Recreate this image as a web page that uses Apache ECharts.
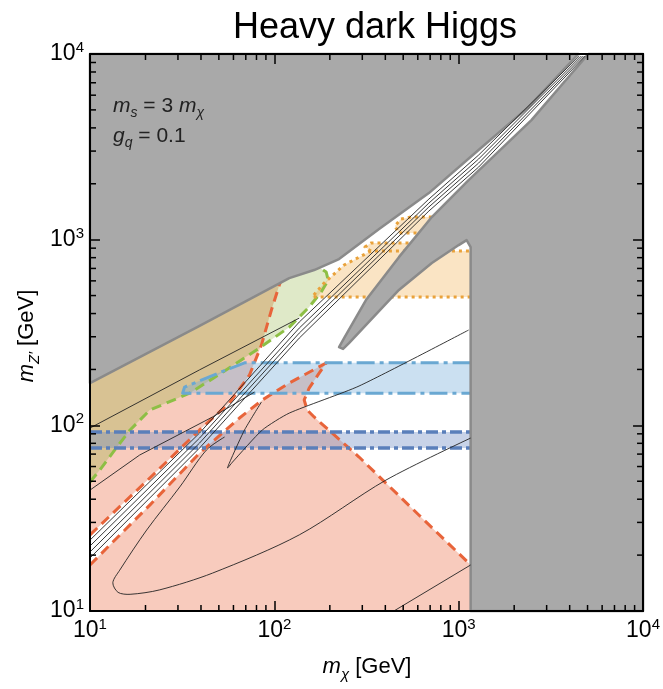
<!DOCTYPE html>
<html><head><meta charset="utf-8">
<script src="https://cdn.jsdelivr.net/npm/echarts@6.0.0/dist/echarts.min.js"></script>
<style>html,body{margin:0;padding:0;background:#fff}#c{width:663px;height:689px}</style>
</head><body><div id="c"></div>
<script>
// ---- data (m_chi [GeV], m_Z' [GeV]) ----
const grayUpper = [[10,10000],[10,169],[39.3,343],[120.5,621],[164.4,686],[224.4,786],[370,1140],[689,1782],[1282,3040],[2388,5176],[4457,10000]];
const grayRight = [[5047,10000],[2481,4406],[1132,2094],[715,1324],[474,805],[314,473],[239,295],[224.4,264],[236,258],[254,277],[474,536],[715,748],[1000,935],[1104,995],[1161,912],[1161,10],[10000,10],[10000,10000]];
const pinkLower = [[10,10],[10,17.7],[21.1,37.2],[39.3,70.9],[64.7,109.5],[86.1,137],[120.5,169],[191,216.5],[175,191],[154.5,158.8],[145.2,137],[150.8,120.8],[164.4,110.9],[288,67.5],[608,32.9],[1161,17.7],[1161,10]];
const pinkUpper = [[10,25.7],[21.1,52.0],[39.3,94.4],[57.1,131.9],[73.3,186.6],[85.1,270.6],[96.4,417.8],[106.4,569.6],[113.2,669],[10,198.6]];
const greenRegion = [[10,198.6],[10,49.5],[11.3,57.4],[13.6,73.6],[16.5,94.4],[21.1,120.8],[34.7,149],[55.0,199],[83.0,261],[120.5,338],[154.5,434],[179.5,522],[196,606],[191,670],[170.6,721],[120.5,670]];
const tanOverlap = [[10,198.6],[10,49.5],[11.3,57.4],[13.6,73.6],[16.5,94.4],[21.1,120.8],[34.7,149],[55.0,199],[83.0,261],[85.1,270.6],[96.4,417.8],[106.4,569.6],[113.2,669]];
const lightBlueRegion = [[31.8,149],[32.6,160.8],[55.0,199],[68.9,217],[1161,217],[1161,149]];
const darkBlueMz = [75.5, 92.0];
const darkBlueMchi = [10, 1161];
const orange1 = [[160.4,491],[186.2,584],[239,730],[334,868],[1161,868],[1161,491]];
const orange2 = [[334,868],[310,912],[334,959],[689,959],[689,868]];
const orange3 = [[474,1085],[451,1184],[485,1291],[551,1324],[780,1324],[780,1085]];
// contour lines
const strip1 = [[10,24.1],[39.3,90.9],[136.5,360],[689,1654],[1282,2855],[4508,9750]];
const strip2 = [[10,22.4],[39.3,85.4],[136.5,334],[689,1574],[1282,2718],[4624,9750]];
const strip3 = [[10,20.8],[39.3,80.3],[136.5,314],[689,1500],[1282,2585],[4742,9750]];
const strip4 = [[10,19.3],[39.3,75.5],[136.5,295],[689,1426],[1282,2460],[4853,9750]];
const loopLine = [[53.7,86.5],[42.8,73.6],[30.7,46.6],[20.3,27.3],[14.5,16.6],[13.3,14.2],[14.2,12.6],[16.5,12.3],[23.9,13.0],[46.2,16.0],[136.5,25.7],[403,50.7],[1161,85.4]];
const vLine = [[85.1,133.5],[68.9,94.4],[58.6,66.7],[55.7,58.9],[59.3,63.4],[86.1,94.4],[120.5,116.4],[288,162.8],[1132,326]];
const lowRightLine = [[445,10],[1161,17.7]];
const upperLine1 = [[10,96.7],[39.3,199],[136.5,378]];
const upperLine2 = [[10,44.8],[18.6,69.2],[46.2,110.9],[78.0,151]];
// ticks
const minorTicks = [20,30,40,50,60,70,80,90,200,300,400,500,600,700,800,900,2000,3000,4000,5000,6000,7000,8000,9000];

const FONT = "'Liberation Sans', Arial, Helvetica, sans-serif";
const chart = echarts.init(document.getElementById('c'), null, {renderer:'canvas'});

function polySeries(pts, fill, z) {
  return {type:'custom', coordinateSystem:'cartesian2d', z:z, silent:true, data:[[10,10]],
    renderItem:(p, api) => ({type:'polygon', shape:{points:pts.map(q=>api.coord(q))},
      style:{fill:fill, stroke:null}})};
}
function strokePolySeries(pts, fill, stroke, w, z) {
  return {type:'custom', coordinateSystem:'cartesian2d', z:z, silent:true, data:[[10,10]],
    renderItem:(p, api) => ({type:'polygon', shape:{points:pts.map(q=>api.coord(q))},
      style:{fill:fill, stroke:stroke, lineWidth:w, lineJoin:'round'}})};
}
function lineSeries(pts, stroke, w, dash, z, smooth) {
  return {type:'custom', coordinateSystem:'cartesian2d', z:z, silent:true, data:[[10,10]],
    renderItem:(p, api) => ({type:'polyline', shape:{points:pts.map(q=>api.coord(q)), smooth:smooth||0},
      style:{fill:'none', stroke:stroke, lineWidth:w, lineDash:dash||null, lineCap:'butt', lineJoin:'round'}})};
}

const PINK='#f8cbbd', GREEN='#dfe9c8', TAN='#d8c293';
const LBLUE='rgba(110,170,215,0.36)', DBLUE='rgba(110,140,195,0.38)', ORANGE='rgba(240,170,70,0.32)';
const series = [
  polySeries(pinkLower, PINK, 2),
  polySeries(pinkUpper, PINK, 2),
  polySeries(greenRegion, GREEN, 2),
  polySeries(tanOverlap, TAN, 2),
  polySeries(lightBlueRegion, LBLUE, 2),
  polySeries([[darkBlueMchi[0],darkBlueMz[0]],[darkBlueMchi[0],darkBlueMz[1]],[darkBlueMchi[1],darkBlueMz[1]],[darkBlueMchi[1],darkBlueMz[0]]], DBLUE, 2),
  polySeries(orange1, ORANGE, 2),
  polySeries(orange2, ORANGE, 2),
  polySeries(orange3, ORANGE, 2),
  lineSeries(pinkUpper.slice(0,9), '#e8643a', 3, [10,6], 3),
  lineSeries(pinkLower.slice(1,16), '#e8643a', 3, [10,6], 3),
  lineSeries(greenRegion.slice(1,15), '#8dbf45', 3, [10,6], 3),
  lineSeries([lightBlueRegion[4],lightBlueRegion[3],lightBlueRegion[2],lightBlueRegion[1],lightBlueRegion[0],lightBlueRegion[5]], '#6aa8d2', 3, [18,5,4,5], 3),
  lineSeries([[darkBlueMchi[0],darkBlueMz[1]],[darkBlueMchi[1],darkBlueMz[1]]], '#5a7fba', 3.5, [12,4,4,4], 3),
  lineSeries([[darkBlueMchi[0],darkBlueMz[0]],[darkBlueMchi[1],darkBlueMz[0]]], '#5a7fba', 3.5, [12,4,4,4], 3),
  lineSeries([orange1[5],orange1[0],orange1[1],orange1[2],orange1[3],orange1[4]], '#e9a23b', 3, [3,4], 3),
  lineSeries([orange2[0],orange2[1],orange2[2],orange2[3]], '#e9a23b', 3, [3,4], 3),
  lineSeries([orange3[4],orange3[3],orange3[2],orange3[1],orange3[0],orange3[5]], '#e9a23b', 3, [3,4], 3),
  strokePolySeries(grayUpper, '#a9a9a9', '#8a8a8a', 2.5, 4),
  strokePolySeries(grayRight, '#a9a9a9', '#8a8a8a', 2.5, 4),
  lineSeries(strip1, '#222', 0.9, null, 5),
  lineSeries(strip2, '#222', 0.9, null, 5),
  lineSeries(strip3, '#222', 0.9, null, 5),
  lineSeries(strip4, '#222', 0.9, null, 5),
  lineSeries(loopLine, '#222', 0.9, null, 5, 0.3),
  lineSeries(vLine, '#222', 0.9, null, 5, 0.2),
  lineSeries(lowRightLine, '#222', 0.9, null, 5),
  lineSeries(upperLine1, '#222', 0.9, null, 5),
  lineSeries(upperLine2, '#222', 0.9, null, 5),
  {type:'custom', coordinateSystem:'cartesian2d', z:12, silent:true, data:[[10,10]],
    renderItem:(p, api) => {
      const ch = [];
      const st = {stroke:'#000', lineWidth:1.5};
      minorTicks.forEach(v => {
        let a = api.coord([v,10]); ch.push({type:'line', shape:{x1:a[0],y1:a[1],x2:a[0],y2:a[1]-6}, style:st});
        a = api.coord([v,10000]); ch.push({type:'line', shape:{x1:a[0],y1:a[1],x2:a[0],y2:a[1]+6}, style:st});
        a = api.coord([10,v]); ch.push({type:'line', shape:{x1:a[0],y1:a[1],x2:a[0]+6,y2:a[1]}, style:st});
        a = api.coord([10000,v]); ch.push({type:'line', shape:{x1:a[0],y1:a[1],x2:a[0]-6,y2:a[1]}, style:st});
      });
      return {type:'group', children:ch};
    }}
];

const labelRich = {
  b:{fontSize:23, fontFamily:FONT, color:'#000', lineHeight:27},
  s:{fontSize:15, fontFamily:FONT, color:'#000', lineHeight:15, verticalAlign:'top'}
};
const fmt = v => '{b|10}{s|' + Math.round(Math.log10(v)) + '}';
function axis(pos, showLabel) {
  return {type:'log', logBase:10, min:10, max:10000, position:pos, z:10,
    splitLine:{show:false},
    axisLine:{show:true, onZero:false, lineStyle:{color:'#000', width:2}},
    axisTick:{show:true, inside:true, length:10, lineStyle:{color:'#000', width:1.5}},
    axisLabel:{show:showLabel, margin:6, formatter:fmt, rich:labelRich, showMinLabel:true, showMaxLabel:true}};
}

const txtRich = {
  i:{fontSize:21, fontStyle:'italic', fontFamily:FONT, fill:'#222', lineHeight:28},
  t:{fontSize:21, fontFamily:FONT, fill:'#222', lineHeight:28},
  sb:{fontSize:14, fontStyle:'italic', fontFamily:FONT, fill:'#222', lineHeight:14, verticalAlign:'bottom'}
};
const nameRich = {
  i:{fontSize:22, fontStyle:'italic', fontFamily:FONT, fill:'#000', lineHeight:30},
  t:{fontSize:22, fontFamily:FONT, fill:'#000', lineHeight:30},
  sb:{fontSize:15, fontStyle:'italic', fontFamily:FONT, fill:'#000', lineHeight:15, verticalAlign:'bottom'}
};

chart.setOption({
  backgroundColor:'#fff',
  animation:false,
  grid:{left:90, right:18, top:54, bottom:78, containLabel:false},
  xAxis:[axis('bottom', true), axis('top', false)],
  yAxis:[axis('left', true), axis('right', false)],
  series: series,
  graphic:[
    {type:'text', x:375, y:28, z:100, style:{text:'Heavy dark Higgs', font:'36px '+FONT, fill:'#000', textAlign:'center', textVerticalAlign:'middle'}},
    {type:'text', x:113, y:106, z:100, style:{text:'{i|m}{sb|s}{t| = 3 }{i|m}{sb|χ}', rich:txtRich, textAlign:'left', textVerticalAlign:'middle'}},
    {type:'text', x:113, y:136, z:100, style:{text:'{i|g}{sb|q}{t| = 0.1}', rich:txtRich, textAlign:'left', textVerticalAlign:'middle'}},
    {type:'text', x:367, y:667, z:100, style:{text:'{i|m}{sb|χ}{t| [GeV]}', rich:nameRich, textAlign:'center', textVerticalAlign:'middle'}},
    {type:'text', x:27, y:336, rotation:Math.PI/2, z:100, style:{text:'{i|m}{sb|Z′}{t| [GeV]}', rich:nameRich, textAlign:'center', textVerticalAlign:'middle'}}
  ]
});
</script></body></html>
